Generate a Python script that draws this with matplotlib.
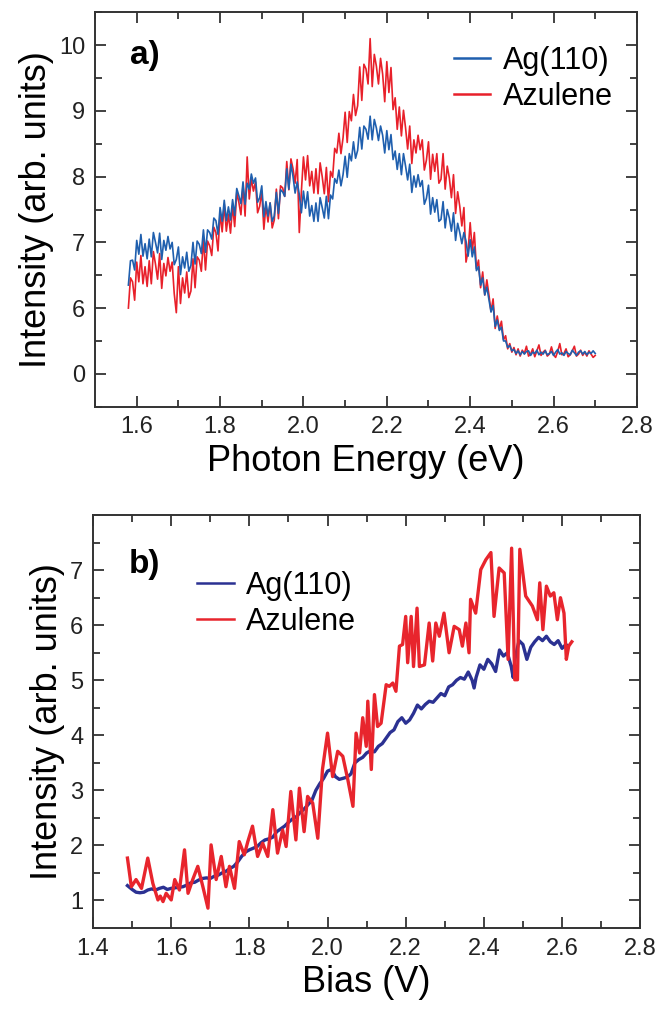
import numpy as np
import matplotlib
matplotlib.use("Agg")
import matplotlib.pyplot as plt
from matplotlib.ticker import MultipleLocator, FixedLocator, FixedFormatter

plt.rcParams['font.family'] = ['Liberation Sans', 'DejaVu Sans']

# ---- panel a: photon emission spectra (y axis label "0" sits at value 5) ----
energy_start, energy_stop, n_energy = 1.58, 2.70, 225

ag_spec = [
    6.35, 6.72, 6.73, 6.58, 7.03, 6.82, 7.12, 6.79, 6.98, 6.75,
    7.05, 6.78, 7.15, 7.00, 6.84, 7.14, 6.74, 7.03, 6.88, 7.09,
    6.90, 7.00, 6.66, 6.74, 6.93, 6.51, 6.78, 6.61, 6.85, 6.56,
    6.65, 7.00, 6.67, 7.02, 6.97, 6.83, 7.19, 6.85, 7.19, 7.15,
    7.05, 7.37, 7.33, 7.12, 7.53, 7.32, 7.64, 7.33, 7.54, 7.34,
    7.65, 7.41, 7.82, 7.71, 7.59, 7.92, 7.58, 7.90, 7.81, 8.04,
    7.90, 7.98, 7.61, 7.68, 7.86, 7.39, 7.62, 7.40, 7.60, 7.32,
    7.40, 7.76, 7.44, 7.80, 7.77, 7.70, 8.12, 7.81, 8.19, 8.00,
    7.75, 7.92, 7.73, 7.45, 7.78, 7.52, 7.77, 7.40, 7.56, 7.32,
    7.60, 7.32, 7.68, 7.53, 7.37, 7.70, 7.36, 7.72, 7.66, 7.97,
    7.90, 8.10, 7.86, 8.03, 8.31, 7.99, 8.35, 8.24, 8.53, 8.28,
    8.40, 8.75, 8.42, 8.77, 8.72, 8.57, 8.92, 8.56, 8.87, 8.74,
    8.55, 8.77, 8.63, 8.36, 8.70, 8.41, 8.64, 8.26, 8.39, 8.11,
    8.35, 8.03, 8.35, 8.16, 7.95, 8.19, 7.76, 8.01, 7.84, 8.03,
    7.85, 7.94, 7.58, 7.67, 7.87, 7.43, 7.68, 7.46, 7.65, 7.32,
    7.35, 7.62, 7.22, 7.50, 7.37, 7.17, 7.45, 7.03, 7.29, 7.15,
    6.98, 7.15, 7.02, 6.79, 7.04, 6.78, 6.93, 6.57, 6.63, 6.35,
    6.46, 6.20, 6.32, 6.13, 5.94, 6.04, 5.72, 5.82, 5.66, 5.71,
    5.50, 5.50, 5.40, 5.43, 5.35, 5.37, 5.31, 5.35, 5.29, 5.34,
    5.30, 5.34, 5.35, 5.28, 5.33, 5.31, 5.36, 5.29, 5.33, 5.30,
    5.35, 5.29, 5.31, 5.34, 5.28, 5.33, 5.37, 5.30, 5.32, 5.28,
    5.34, 5.31, 5.29, 5.36, 5.32, 5.28, 5.33, 5.35, 5.30, 5.34,
    5.29, 5.33, 5.31, 5.35, 5.31,
]

azu_spec = [
    6.00, 6.46, 6.40, 6.12, 6.70, 6.40, 6.80, 6.37, 6.63, 6.33,
    6.72, 6.37, 6.86, 6.67, 6.44, 6.83, 6.30, 6.68, 6.49, 6.77,
    6.56, 6.70, 6.22, 5.93, 6.63, 6.07, 6.46, 6.23, 6.55, 6.16,
    6.26, 6.75, 6.31, 6.78, 6.73, 6.56, 7.05, 6.58, 7.02, 6.95,
    6.80, 7.23, 7.15, 6.87, 7.45, 7.16, 7.58, 7.17, 7.43, 7.14,
    7.56, 7.24, 7.76, 7.61, 7.42, 7.87, 7.40, 8.30, 7.66, 7.97,
    7.78, 7.92, 7.45, 7.55, 7.78, 7.20, 7.56, 7.31, 7.60, 7.22,
    7.34, 7.81, 7.36, 7.86, 7.83, 7.70, 8.23, 7.80, 8.27, 8.12,
    7.90, 8.26, 7.15, 7.77, 8.30, 7.95, 8.32, 7.86, 8.08, 7.75,
    8.12, 7.74, 8.21, 8.00, 7.74, 8.14, 7.62, 8.08, 7.99, 8.43,
    8.36, 8.66, 8.35, 8.59, 8.98, 8.52, 8.99, 8.85, 9.25, 8.93,
    9.08, 9.67, 9.16, 9.71, 9.64, 9.41, 10.10, 9.37, 9.86, 9.68,
    9.41, 9.80, 9.56, 9.14, 9.75, 9.28, 9.66, 9.02, 9.20, 8.72,
    9.06, 8.62, 9.01, 8.74, 8.42, 8.77, 8.20, 8.56, 8.36, 8.63,
    8.41, 8.56, 8.10, 8.25, 8.53, 7.96, 8.34, 8.08, 8.35, 7.90,
    7.96, 8.35, 7.81, 8.16, 7.98, 7.68, 8.03, 7.44, 7.77, 7.55,
    7.25, 7.53, 6.70, 6.87, 7.30, 6.87, 7.15, 6.60, 6.73, 6.31,
    6.55, 6.20, 6.43, 6.20, 5.95, 6.14, 5.69, 5.88, 5.68, 5.80,
    5.52, 5.58, 5.38, 5.46, 5.33, 5.40, 5.29, 5.38, 5.27, 5.36,
    5.31, 5.42, 5.27, 5.30, 5.38, 5.26, 5.35, 5.44, 5.28, 5.33,
    5.36, 5.27, 5.30, 5.41, 5.29, 5.25, 5.34, 5.46, 5.29, 5.31,
    5.38, 5.26, 5.29, 5.35, 5.42, 5.27, 5.30, 5.36, 5.28, 5.33,
    5.27, 5.35, 5.30, 5.25, 5.28,
]

a_yticks = [5, 6, 7, 8, 9, 10]
a_yticklabels = ["0", "6", "7", "8", "9", "10"]

# ---- panel b: bias dependent intensity ----
ag_bias = [1.488, 1.50, 1.51, 1.52, 1.53, 1.54, 1.55, 1.56, 1.57, 1.58,
           1.59, 1.60, 1.61, 1.62, 1.63, 1.64, 1.65, 1.66, 1.67, 1.68,
           1.69, 1.70, 1.71, 1.72, 1.73, 1.74, 1.75, 1.76, 1.77, 1.78,
           1.79, 1.80, 1.81, 1.82, 1.83, 1.84, 1.85, 1.86, 1.87, 1.88,
           1.89, 1.90, 1.91, 1.92, 1.93, 1.94, 1.95, 1.96, 1.97, 1.98,
           1.99, 2.00, 2.01, 2.02, 2.03, 2.04, 2.05, 2.06, 2.07, 2.08,
           2.09, 2.10, 2.11, 2.12, 2.13, 2.14, 2.15, 2.16, 2.17, 2.18,
           2.19, 2.20, 2.21, 2.22, 2.23, 2.24, 2.25, 2.26, 2.27, 2.28,
           2.29, 2.30, 2.31, 2.32, 2.33, 2.34, 2.35, 2.36, 2.37, 2.375,
           2.38, 2.39, 2.40, 2.41, 2.42, 2.43, 2.44, 2.45, 2.46, 2.47,
           2.475, 2.48, 2.49, 2.50, 2.51, 2.52, 2.53, 2.54, 2.55, 2.56,
           2.57, 2.58, 2.59, 2.60, 2.61, 2.615]
ag_int = [1.27, 1.20, 1.15, 1.14, 1.15, 1.19, 1.21, 1.19, 1.22, 1.24,
          1.20, 1.22, 1.23, 1.24, 1.25, 1.28, 1.32, 1.33, 1.37, 1.40,
          1.41, 1.40, 1.44, 1.46, 1.50, 1.53, 1.58, 1.62, 1.70, 1.80,
          1.88, 1.92, 1.95, 1.98, 2.05, 2.10, 2.12, 2.15, 2.25, 2.30,
          2.35, 2.42, 2.48, 2.52, 2.60, 2.66, 2.74, 2.82, 3.00, 3.12,
          3.22, 3.35, 3.38, 3.25, 3.20, 3.22, 3.24, 3.30, 3.50, 3.56,
          3.60, 3.68, 3.72, 3.70, 3.80, 3.85, 3.95, 4.05, 4.10, 4.25,
          4.32, 4.22, 4.28, 4.40, 4.55, 4.48, 4.56, 4.62, 4.60, 4.68,
          4.76, 4.72, 4.88, 4.92, 5.00, 5.05, 5.02, 5.15, 5.00, 4.86,
          5.05, 5.28, 5.20, 5.38, 5.30, 5.16, 5.55, 5.44, 5.50, 5.25,
          5.05, 5.40, 5.72, 5.65, 5.38, 5.60, 5.70, 5.78, 5.72, 5.80,
          5.70, 5.65, 5.72, 5.58, 5.65, 5.62]

azu_bias = [1.488, 1.498, 1.51, 1.524, 1.54, 1.553, 1.566, 1.572, 1.579, 1.587,
            1.60, 1.609, 1.621, 1.634, 1.643, 1.655, 1.668, 1.681, 1.694, 1.702,
            1.715, 1.728, 1.74, 1.749, 1.762, 1.774, 1.787, 1.796, 1.808, 1.821,
            1.834, 1.847, 1.86, 1.872, 1.885, 1.894, 1.906, 1.919, 1.928, 1.94,
            1.949, 1.962, 1.975, 1.987, 2.00, 2.013, 2.026, 2.039, 2.052, 2.065,
            2.073, 2.082, 2.09, 2.099, 2.103, 2.112, 2.12, 2.128, 2.137, 2.15,
            2.158, 2.167, 2.175, 2.184, 2.192, 2.20, 2.205, 2.214, 2.22, 2.229,
            2.235, 2.248, 2.26, 2.269, 2.277, 2.286, 2.298, 2.311, 2.324, 2.337,
            2.345, 2.354, 2.362, 2.366, 2.379, 2.392, 2.405, 2.418, 2.426, 2.439,
            2.452, 2.462, 2.471, 2.479, 2.486, 2.492, 2.507, 2.524, 2.537, 2.543,
            2.551, 2.56, 2.57, 2.579, 2.588, 2.596, 2.605, 2.611, 2.617, 2.625]
azu_int = [1.77, 1.25, 1.38, 1.22, 1.77, 1.31, 1.01, 1.08, 0.98, 1.13,
           1.01, 1.38, 1.19, 1.92, 1.13, 1.38, 1.62, 1.25, 0.86, 2.01,
           1.38, 1.80, 1.25, 1.62, 1.22, 2.07, 1.83, 2.07, 2.35, 1.80,
           2.04, 1.80, 2.65, 1.86, 2.28, 1.98, 2.98, 2.10, 3.04, 2.25,
           2.89, 2.77, 2.13, 3.38, 4.04, 3.25, 3.71, 3.62, 3.19, 2.71,
           4.04, 3.68, 4.32, 3.80, 4.62, 3.38, 4.74, 4.16, 4.22, 4.92,
           4.89, 4.95, 4.80, 5.62, 5.65, 6.16, 5.32, 6.16, 5.25, 6.31,
           5.25, 5.28, 6.04, 5.35, 6.04, 5.80, 6.22, 5.50, 5.98, 5.92,
           5.62, 6.04, 5.50, 6.47, 6.22, 7.01, 7.19, 7.32, 6.16, 7.04,
           6.95, 5.38, 7.40, 5.01, 5.01, 7.38, 6.53, 6.35, 6.10, 6.77,
           5.92, 6.71, 6.53, 6.59, 6.10, 6.50, 6.22, 5.38, 5.62, 5.70]

blue_a = '#1f5fae'
red_a = '#e8202a'
blue_b = '#2b3192'
red_b = '#e8252d'
dark = '#222222'

fig = plt.figure(figsize=(6.6, 10.27), dpi=100)
ax1 = fig.add_axes([0.144, 0.604, 0.821, 0.384])
ax2 = fig.add_axes([0.141, 0.0964, 0.829, 0.402])

energy = np.linspace(energy_start, energy_stop, n_energy)
l_azu, = ax1.plot(energy, azu_spec, color=red_a, lw=1.2, label='Azulene')
l_ag, = ax1.plot(energy, ag_spec, color=blue_a, lw=1.2, label='Ag(110)')
ax1.set_xlim(1.5, 2.8)
ax1.set_ylim(4.5, 10.5)
ax1.xaxis.set_major_locator(MultipleLocator(0.2))
ax1.xaxis.set_minor_locator(MultipleLocator(0.1))
ax1.xaxis.set_major_formatter(plt.FuncFormatter(lambda v, p: f"{v:.1f}"))
ax1.yaxis.set_major_locator(FixedLocator(a_yticks))
ax1.yaxis.set_major_formatter(FixedFormatter(a_yticklabels))
ax1.yaxis.set_minor_locator(MultipleLocator(0.5))
ax1.set_xlabel('Photon Energy (eV)', fontsize=26, labelpad=4)
ax1.set_ylabel('Intensity (arb. units)', fontsize=26, labelpad=4)
ax1.text(0.065, 0.89, 'a)', transform=ax1.transAxes, fontsize=24,
         fontweight='bold', va='center', ha='left')
leg1 = ax1.legend([l_ag, l_azu], ['Ag(110)', 'Azulene'], loc='upper left',
                  bbox_to_anchor=(0.662, 0.915), frameon=False, fontsize=22,
                  handlelength=1.2, handletextpad=0.4, labelspacing=0.2,
                  borderpad=0, borderaxespad=0)
for ln in leg1.get_lines():
    ln.set_linewidth(1.8)

ax2.plot(ag_bias, ag_int, color=blue_b, lw=2.4, label='Ag(110)')
ax2.plot(azu_bias, azu_int, color=red_b, lw=2.4, label='Azulene')
ax2.set_xlim(1.4, 2.8)
ax2.set_ylim(0.5, 8.0)
ax2.xaxis.set_major_locator(MultipleLocator(0.2))
ax2.xaxis.set_minor_locator(MultipleLocator(0.1))
ax2.xaxis.set_major_formatter(plt.FuncFormatter(lambda v, p: f"{v:.1f}"))
ax2.yaxis.set_major_locator(FixedLocator([1, 2, 3, 4, 5, 6, 7]))
ax2.yaxis.set_minor_locator(MultipleLocator(0.5))
ax2.set_xlabel('Bias (V)', fontsize=26, labelpad=4)
ax2.set_ylabel('Intensity (arb. units)', fontsize=26, labelpad=4)
ax2.text(0.065, 0.88, 'b)', transform=ax2.transAxes, fontsize=24,
         fontweight='bold', va='center', ha='left')
leg2 = ax2.legend(loc='upper left', bbox_to_anchor=(0.19, 0.865), frameon=False,
                  fontsize=22, handlelength=1.2, handletextpad=0.4, labelspacing=0.2,
                  borderpad=0, borderaxespad=0)
for ln in leg2.get_lines():
    ln.set_linewidth(1.8)

for ax in (ax1, ax2):
    for s in ax.spines.values():
        s.set_linewidth(1.4)
        s.set_color('#333333')
    ax.tick_params(which='both', direction='in', top=True, right=True,
                   color='#333333', width=1.3, labelsize=17, labelcolor=dark, pad=7)
    ax.tick_params(which='major', length=8)
    ax.tick_params(which='minor', length=5)

fig.savefig('out.png', dpi=100)
